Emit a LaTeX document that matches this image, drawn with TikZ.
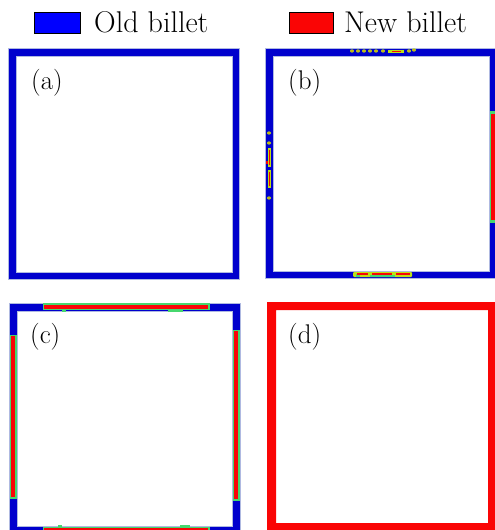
\documentclass[tikz,border=0pt]{standalone}
\usepackage{fontspec}
\definecolor{oldblue}{RGB}{0,0,205}
\definecolor{legblue}{RGB}{0,0,255}
\definecolor{newred}{RGB}{250,5,5}
\definecolor{edgegray}{RGB}{175,185,225}
\definecolor{cgreen}{RGB}{70,215,110}
\definecolor{cyel}{RGB}{190,225,20}
\tikzset{
  legbox/.style={draw=black, line width=0.8pt},
  legtext/.style={anchor=base west, inner sep=0pt, font=\rmfamily\fontsize{30}{35}\selectfont},
  paneltag/.style={anchor=base west, inner sep=0pt, font=\rmfamily\fontsize{27}{32}\selectfont},
  rim/.style={draw=edgegray, line width=0.8pt},
}
\newcommand\cstrip[4]{%
  \fill[cgreen] (#1-1.5,#2-1.5) rectangle (#3+1.5,#4+1.5);
  \fill[newred] (#1,#2) rectangle (#3,#4);}
\newcommand\speck[2]{%
  \fill[cyel] (#1,#2) ellipse (2pt and 1.6pt);
  \fill[newred!80!orange] (#1,#2) circle (0.7pt);}
\begin{document}
\begin{tikzpicture}[x=1pt,y=-1pt]
\useasboundingbox (0,0) rectangle (495,530);
\begin{scope}
\clip (0,0) rectangle (495,530);
% legend
\fill[legblue, legbox] (34,12) rectangle (80,33);
\node[legtext] (oldlab) at (94,32) {Old billet};
\fill[newred, legbox] (289,12) rectangle (333,33);
\node[legtext] (newlab) at (344,32) {New billet};

% panel (a)
\fill[oldblue, even odd rule] (8,48) rectangle (239,279) (16,56) rectangle (232,272);
\draw[rim] (8,48) rectangle (239,279);
\draw[rim] (16,56) rectangle (232,272);
\node[paneltag] (la) at (31,89) {(a)};

% panel (b)
\fill[oldblue, even odd rule] (265,48) rectangle (497,278) (273,56) rectangle (489,271);
\draw[rim] (265,48) rectangle (497,278);
\draw[rim] (273,56) rectangle (489,271);
% top specks
\foreach \x in {352,358,364,370,376,383} {\speck{\x}{51}}
\fill[cyel] (388,50) rectangle (404,52.5);
\fill[newred] (392,50.8) rectangle (401,51.8);
\speck{409}{51}
\speck{414}{50}
% bottom blob
\fill[cyel, rounded corners=1pt] (353,272) rectangle (412,277);
\fill[cgreen] (356,274) rectangle (360,277);
\fill[newred] (357,272.5) rectangle (368,274.5);
\fill[newred] (372,273) rectangle (392,275);
\fill[newred] (396,272.5) rectangle (410,274.5);
\fill[cgreen] (370,275) rectangle (395,277);
% left specks
\speck{269}{133}
\speck{269}{143}
\fill[cyel] (267.5,148) rectangle (270.5,167);
\fill[newred] (268.5,150) rectangle (269.5,165);
\fill[cyel] (267.5,170) rectangle (270.5,188);
\fill[newred] (268.5,172) rectangle (269.5,186);
\fill[newred] (265.5,161) rectangle (268,164);
\speck{269}{198}
% right strip
\fill[cgreen] (489.5,111) rectangle (495,223);
\fill[newred] (491,114) rectangle (495,220);

\node[paneltag] (lb) at (288,89) {(b)};

% panel (c)
\fill[oldblue, even odd rule] (9,303) rectangle (240,535) (17,311) rectangle (232,526);
\draw[rim] (9,303) rectangle (240,535);
\draw[rim] (17,311) rectangle (232,526);
\cstrip{44}{304.5}{208}{308.5}
\fill[cgreen] (62,309) rectangle (66,312);
\fill[cgreen] (168,309) rectangle (183,311.5);
\cstrip{11}{336}{15}{497}
\cstrip{234}{331}{238}{499}
\cstrip{44}{528}{208}{533}
\fill[cgreen] (58,524.5) rectangle (62,527);
\fill[cgreen] (180,524.5) rectangle (190,527);
\node[paneltag] (lc) at (30,343) {(c)};

% panel (d)
\fill[newred, even odd rule] (267,302) rectangle (498,533) (276,310) rectangle (488,523);
\node[paneltag] (ld) at (288,343) {(d)};
\end{scope}
\end{tikzpicture}
\end{document}
